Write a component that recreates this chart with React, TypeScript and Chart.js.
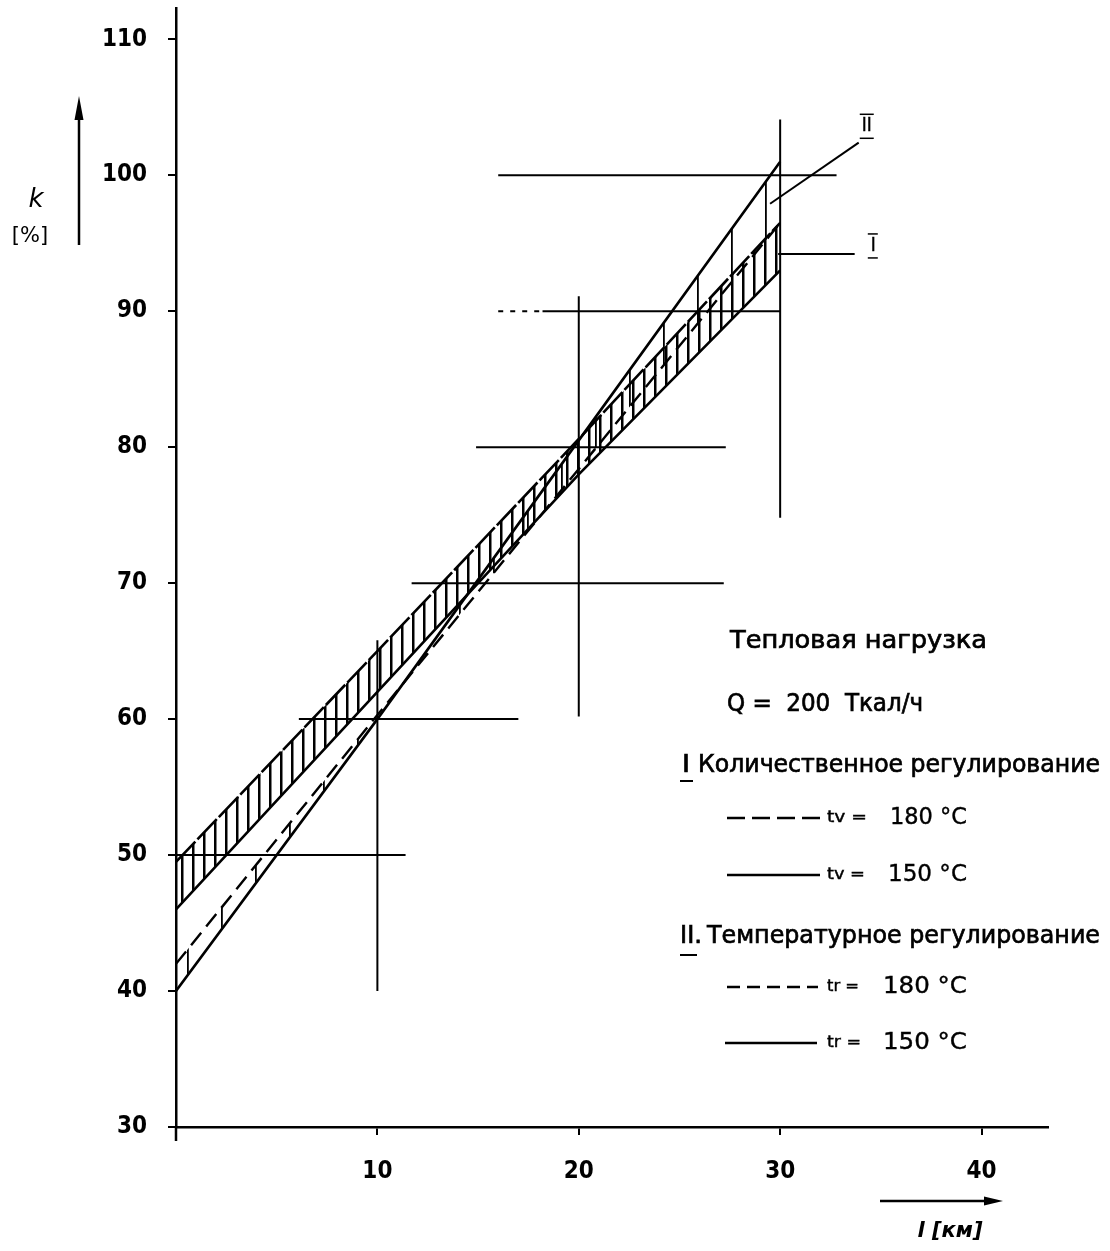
import React, { useEffect, useRef } from 'react';
import { Chart, registerables } from 'chart.js';

Chart.register(...registerables);

// ---- data ----
const xTickValues = [10, 20, 30, 40];
const yTickValues = [30, 40, 50, 60, 70, 80, 90, 100, 110];

const distanceKm = [0, 10, 20, 30];
const kQuant180 = [49.5, 65, 80.6, 96.5]; // I, tv = 180 °C
const kQuant150 = [46, 62, 78, 93]; // I, tv = 150 °C
const kTemp150 = [40, 60, 80.5, 101]; // II, tr = 150 °C
const kTemp180 = [42, 60.3, 78.4, 96.5]; // II, tr = 180 °C

// construction lines
const guideRowsK = [50, 60, 70, 80, 90, 100];
const guideRowsFrom = [0, 6.1, 11.7, 14.9, 18.2, 16.0];
const guideRowsTo = [11.4, 17.0, 27.2, 27.3, 30.0, 32.8];
const dottedRowK = [90];
const dottedRowFrom = [16.0];
const dottedRowTo = [18.2];
const guideColsL = [10, 20, 30];
const guideColsFrom = [40, 60.2, 74.8];
const guideColsTo = [65.8, 91.1, 104.1];

const X_MIN = 0;
const X_MAX = 43.3;
const Y_MIN = 30;
const Y_MAX = 112.3;

function makeStripes(period: number, lineW: number) {
  const c = document.createElement('canvas');
  c.width = period;
  c.height = 4;
  const g = c.getContext('2d')!;
  g.fillStyle = '#000';
  g.fillRect(Math.floor(period / 2), 0, lineW, 4);
  return g.createPattern(c, 'repeat');
}

function fitText(ctx: CanvasRenderingContext2D, text: string, x: number, y: number, w: number, font: string, bold = 0.7) {
  ctx.save();
  ctx.font = font;
  const m = ctx.measureText(text).width;
  ctx.translate(x, y);
  ctx.scale(w / m, 1);
  ctx.textAlign = 'left';
  ctx.textBaseline = 'middle';
  ctx.fillStyle = '#000';
  ctx.strokeStyle = '#000';
  ctx.lineWidth = bold;
  ctx.fillText(text, 0, 0);
  if (bold > 0) ctx.strokeText(text, 0, 0);
  ctx.restore();
}

function seg(ctx: CanvasRenderingContext2D, x1: number, y1: number, x2: number, y2: number, w: number, dash: number[] = []) {
  ctx.save();
  ctx.strokeStyle = '#000';
  ctx.lineWidth = w;
  ctx.setLineDash(dash);
  ctx.beginPath();
  ctx.moveTo(x1, y1);
  ctx.lineTo(x2, y2);
  ctx.stroke();
  ctx.restore();
}

const annotPlugin = {
  id: 'annot',
  afterDraw(chart: any) {
    const ctx: CanvasRenderingContext2D = chart.ctx;
    const xs = chart.scales.x;
    const ys = chart.scales.y;
    const px = (v: number) => xs.getPixelForValue(v);
    const py = (v: number) => ys.getPixelForValue(v);
    const F = '"DejaVu Sans", sans-serif';

    // y-axis extension below x-axis
    seg(ctx, px(0), py(30), px(0), py(30) + 14, 2.5);

    // pointer lines and labels I / II
    seg(ctx, px(29.5), py(97.9), px(33.9), py(102.4), 2);
    seg(ctx, px(29.9), py(94.2), px(33.7), py(94.2), 2);
    fitText(ctx, 'II', px(34.3) - 5, py(103.6), 10, '20px ' + F, 0.5);
    fitText(ctx, 'I', px(34.6) - 2, py(94.8), 5, '20px ' + F, 0.5);
    seg(ctx, px(34.3) - 7, py(103.6) + 12, px(34.3) + 7, py(103.6) + 12, 1.5);
    seg(ctx, px(34.3) - 7, py(103.6) - 12, px(34.3) + 7, py(103.6) - 12, 1.5);
    seg(ctx, px(34.6) - 5, py(94.8) + 12, px(34.6) + 5, py(94.8) + 12, 1.5);
    seg(ctx, px(34.6) - 5, py(94.8) - 12, px(34.6) + 5, py(94.8) - 12, 1.5);

    // y-axis label and arrow
    ctx.save();
    ctx.fillStyle = '#000';
    ctx.textAlign = 'center';
    ctx.textBaseline = 'middle';
    ctx.font = 'italic 26px ' + F;
    ctx.fillText('k', 36, 200);
    ctx.font = '21px ' + F;
    ctx.fillText('[%]', 30, 237);
    ctx.restore();
    seg(ctx, 79, 245, 79, 112, 2.5);
    ctx.save();
    ctx.fillStyle = '#000';
    ctx.beginPath();
    ctx.moveTo(79, 96);
    ctx.lineTo(74.5, 120);
    ctx.lineTo(83.5, 120);
    ctx.closePath();
    ctx.fill();
    ctx.restore();

    // x-axis label and arrow
    seg(ctx, 880, 1201, 988, 1201, 2.5);
    ctx.save();
    ctx.fillStyle = '#000';
    ctx.beginPath();
    ctx.moveTo(1003, 1201);
    ctx.lineTo(984, 1196.5);
    ctx.lineTo(984, 1205.5);
    ctx.closePath();
    ctx.fill();
    ctx.font = 'italic bold 21px ' + F;
    ctx.textAlign = 'center';
    ctx.textBaseline = 'middle';
    ctx.fillText('l [км]', 950, 1232);
    ctx.restore();

    // right text block
    const T = '24px ' + F;
    fitText(ctx, 'Тепловая нагрузка', 730, 642, 257, T);
    fitText(ctx, 'Q =  200  Ткал/ч', 727, 705, 196, T);
    fitText(ctx, 'I', 682, 766, 8, T);
    seg(ctx, 680, 781, 693, 781, 2);
    fitText(ctx, 'Количественное регулирование', 698, 766, 402, T);

    const S = '15px ' + F;
    const V = '23px ' + F;
    seg(ctx, 727, 818, 820, 818, 2.5, [18, 7]);
    fitText(ctx, 'tv =', 827, 818, 40, S, 0.4);
    fitText(ctx, '180 °C', 890, 818, 77, V, 0.4);
    seg(ctx, 727, 875, 820, 875, 2.5);
    fitText(ctx, 'tv =', 827, 875, 38, S, 0.4);
    fitText(ctx, '150 °C', 888, 875, 79, V, 0.4);

    fitText(ctx, 'II.', 680, 937, 22, T);
    seg(ctx, 680, 955, 697, 955, 2);
    fitText(ctx, 'Температурное регулирование', 707, 937, 393, T);
    seg(ctx, 727, 987, 818, 987, 2.5, [13, 7]);
    fitText(ctx, 'tr =', 827, 987, 32, S, 0.4);
    fitText(ctx, '180 °C', 883, 987, 84, V, 0.4);
    seg(ctx, 725, 1043, 817, 1043, 2.5);
    fitText(ctx, 'tr =', 827, 1043, 34, S, 0.4);
    fitText(ctx, '150 °C', 883, 1043, 84, V, 0.4);
  },
};

export default function App() {
  const ref = useRef<HTMLCanvasElement>(null);

  useEffect(() => {
    document.body.style.margin = '0';
    const canvas = ref.current!;
    const hatchI = makeStripes(11, 2.5);
    const hatchII = makeStripes(34, 1.8);

    const pts = (ys: number[]) => distanceKm.map((x, i) => ({ x, y: ys[i] }));
    const base = { pointRadius: 0, borderColor: '#000', tension: 0, fill: false };

    const datasets: any[] = [
      { ...base, label: 'I 180', data: pts(kQuant180), borderWidth: 2.6, borderDash: [28, 3], fill: 1, backgroundColor: hatchI },
      { ...base, label: 'I 150', data: pts(kQuant150), borderWidth: 2.6 },
      { ...base, label: 'II 150', data: pts(kTemp150), borderWidth: 2.6, fill: 3, backgroundColor: hatchII },
      { ...base, label: 'II 180', data: pts(kTemp180), borderWidth: 2.4, borderDash: [16, 8] },
    ];
    guideRowsK.forEach((k, i) => {
      datasets.push({ ...base, data: [{ x: guideRowsFrom[i], y: k }, { x: guideRowsTo[i], y: k }], borderWidth: 2 });
    });
    dottedRowK.forEach((k, i) => {
      datasets.push({ ...base, data: [{ x: dottedRowFrom[i], y: k }, { x: dottedRowTo[i], y: k }], borderWidth: 2, borderDash: [5, 7] });
    });
    guideColsL.forEach((l, i) => {
      datasets.push({ ...base, data: [{ x: l, y: guideColsFrom[i] }, { x: l, y: guideColsTo[i] }], borderWidth: 2 });
    });

    const tickFont = { family: '"Liberation Sans Narrow", "DejaVu Sans Condensed", "Liberation Sans", sans-serif', size: 24, weight: 'bold' as const };

    const chart = new Chart(canvas, {
      type: 'line',
      data: { datasets },
      options: {
        animation: false,
        responsive: false,
        devicePixelRatio: 1,
        layout: { padding: { top: 8, right: 62, left: 0, bottom: 0 } },
        plugins: { legend: { display: false }, tooltip: { enabled: false } },
        scales: {
          x: {
            type: 'linear',
            min: X_MIN,
            max: X_MAX,
            afterBuildTicks: (axis: any) => {
              axis.ticks = xTickValues.map((v) => ({ value: v }));
            },
            afterFit: (s: any) => {
              s.height = 124;
              s.paddingLeft = 0;
              s.paddingRight = 0;
            },
            ticks: { color: '#000', font: tickFont, padding: 22, maxRotation: 0, autoSkip: false },
            grid: { drawOnChartArea: false, drawTicks: true, tickLength: 8, color: '#000', lineWidth: 2 },
            border: { display: true, color: '#000', width: 2.5 },
          },
          y: {
            type: 'linear',
            min: Y_MIN,
            max: Y_MAX,
            afterBuildTicks: (axis: any) => {
              axis.ticks = yTickValues.map((v) => ({ value: v }));
            },
            afterFit: (s: any) => {
              s.width = 176;
              s.paddingTop = 0;
              s.paddingBottom = 0;
            },
            ticks: { color: '#000', font: tickFont, padding: 21, autoSkip: false },
            grid: { drawOnChartArea: false, drawTicks: true, tickLength: 8, color: '#000', lineWidth: 2 },
            border: { display: true, color: '#000', width: 2.5 },
          },
        },
      },
      plugins: [annotPlugin],
    });
    return () => chart.destroy();
  }, []);

  return (
    <div style={{ width: 1110, height: 1251, background: '#fff' }}>
      <canvas ref={ref} width={1110} height={1251} style={{ display: 'block', width: 1110, height: 1251 }} />
    </div>
  );
}
